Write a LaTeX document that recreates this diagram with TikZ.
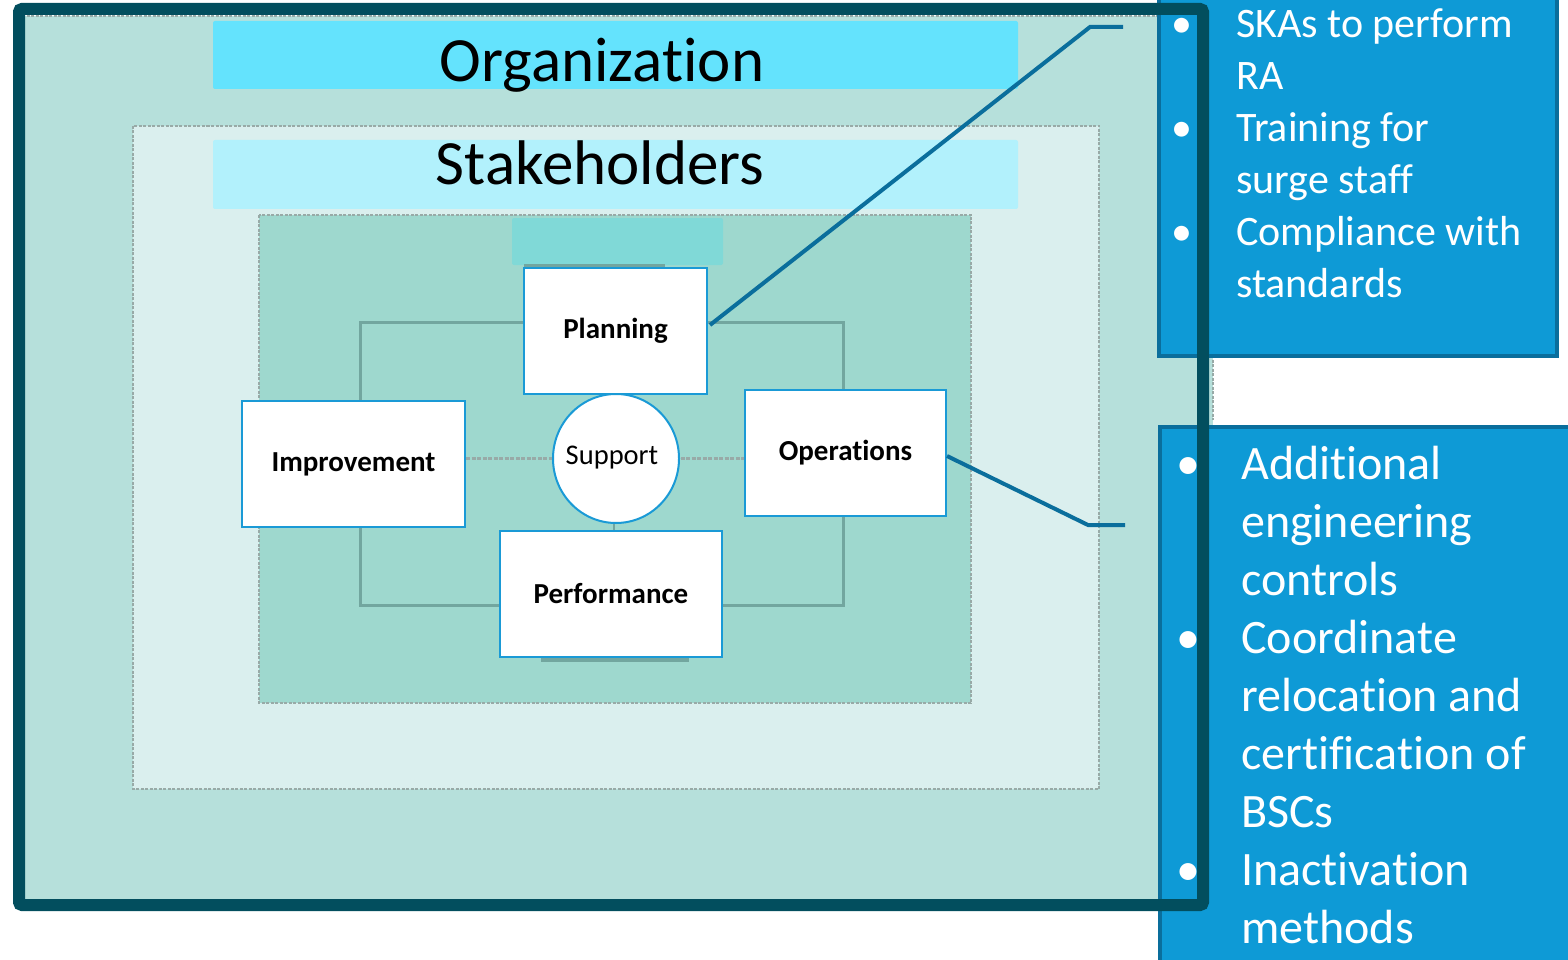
\documentclass[tikz,border=0pt]{standalone}
\usepackage{fontspec}
\setmainfont{Carlito}[Ligatures={NoCommon,NoContextual}]
\usetikzlibrary{shapes.geometric,calc}

\definecolor{framedark}{HTML}{024E5E}
\definecolor{orgfill}{HTML}{B6E0DB}
\definecolor{orglabel}{HTML}{64E3FD}
\definecolor{stakefill}{HTML}{DAEFEE}
\definecolor{stakelabel}{HTML}{B2F1FC}
\definecolor{corefill}{HTML}{9ED8CE}
\definecolor{corelabel}{HTML}{80D9D7}
\definecolor{loopline}{HTML}{72A69F}
\definecolor{dashgray}{HTML}{98AAA7}
\definecolor{nodeblue}{HTML}{1A9AD6}
\definecolor{calloutfill}{HTML}{0E9AD6}
\definecolor{calloutedge}{HTML}{0A6E9C}

\pgfdeclarelayer{bg}
\pgfsetlayers{bg,main}

\begin{document}
\begin{tikzpicture}[x=1pt,y=-1pt,
  zone/.style={draw=dashgray, line width=1.5, dash pattern=on 3pt off 1.5pt},
  bigtitle/.style={anchor=base, inner sep=0, font=\fontsize{63}{75}\selectfont},
  stagebox/.style={draw=nodeblue, line width=2, fill=white, inner sep=0,
    font=\bfseries\fontsize{29}{34}\selectfont},
  hub/.style={ellipse, draw=nodeblue, line width=2, fill=white, inner sep=0,
    minimum width=126, minimum height=129},
  leader/.style={draw=calloutedge, line width=4},
  calloutbox/.style={fill=calloutfill, draw=calloutedge, line width=4},
  callouttext/.style={anchor=base west, inner sep=0, text=white}]

\useasboundingbox (0,0) rectangle (1568,960);
\clip (0,0) rectangle (1568,960);

% nested zones and their title bars
\begin{pgfonlayer}{bg}
  \fill[orgfill] (22,16) rectangle (1213,900);
  \draw[zone] (22,16) -- (1213,16) -- (1213,420);
  \fill[orglabel, rounded corners=2] (213,21) rectangle (1018,89);

  \fill[stakefill] (133,126) rectangle (1099,789);
  \draw[zone] (133,126) rectangle (1099,789);
  \fill[stakelabel, rounded corners=2] (213,140) rectangle (1018,209);

  \fill[corefill] (259,215) rectangle (971,703);
  \draw[zone] (259,215) rectangle (971,703);
  \fill[corelabel, rounded corners=2] (512,218) rectangle (723,265);
  \fill[loopline] (524,264) rectangle (665,268);

  % loop joining the four stages
  \draw[loopline, line width=3] (360,322) rectangle (843,605);
  \fill[loopline] (541,657) rectangle (689,662);
\end{pgfonlayer}

\node[bigtitle] (orgtitle) at (602,82) {Organization};
\node[bigtitle] (staketitle) at (600,185) {Stakeholders};

% stages of the cycle
\node[stagebox, minimum width=183, minimum height=126] (planning) at (615.5,331) {Planning};
\node[stagebox, minimum width=223, minimum height=126] (improvement) at (353.5,464) {\raisebox{-2pt}{Improvement}};
\node[stagebox, minimum width=201, minimum height=126] (operations) at (845.5,453) {Operations};
\node[stagebox, minimum width=222, minimum height=126] (performance) at (611,594) {Performance};
\node[hub] (support) at (616,458.5) {};
\node[anchor=base, inner sep=0, font=\fontsize{28.5}{34}\selectfont] (supporttext)
  at ($(support.center)+(-4,6)$) {Support};

\begin{pgfonlayer}{bg}
  \draw[dashgray, line width=2.5, dash pattern=on 4pt off 1.5pt]
    (improvement.east |- support.center) -- (operations.west |- support.center);
  \draw[loopline, line width=2] (support.south -| 614,0) -- (performance.north -| 614,0);
\end{pgfonlayer}

% leader lines to the call-outs
\coordinate (bend1) at (1090,27);
\coordinate (tip1) at (1123,27);
\coordinate (bend2) at (1088,525);
\coordinate (tip2) at (1125,525);
\draw[leader] ($(planning.east)+(2,-6)$) -- (bend1) -- (tip1);
\draw[leader] ($(operations.east)+(0,3)$) -- (bend2) -- (tip2);

% call-out boxes
\node[calloutbox, anchor=north west, minimum width=398, minimum height=360, inner sep=0]
  (callouttop) at (1157,-6) {};
\node[calloutbox, anchor=north west, minimum width=430, minimum height=560, inner sep=0]
  (calloutbottom) at (1158,425) {};

\node[callouttext, font=\fontsize{42}{52}\selectfont] (topitems) at (1182,38)
  {\begin{tabular}[t]{@{}p{54pt}@{}l@{}}
    \makebox[0pt]{\textbullet} & SKAs to perform\\
     & RA\\
    \makebox[0pt]{\textbullet} & Training for\\
     & surge staff\\
    \makebox[0pt]{\textbullet} & Compliance with\\
     & standards
  \end{tabular}};

\node[callouttext, font=\fontsize{48}{58}\selectfont] (bottomitems) at (1188,479)
  {\begin{tabular}[t]{@{}p{53pt}@{}l@{}}
    \makebox[0pt]{\textbullet} & Additional\\
     & engineering\\
     & controls\\
    \makebox[0pt]{\textbullet} & Coordinate\\
     & relocation and\\
     & certification of\\
     & BSCs\\
    \makebox[0pt]{\textbullet} & Inactivation\\
     & methods
  \end{tabular}};

% outer frame, drawn over everything
\draw[framedark, line width=12, rounded corners=3] (19,9) rectangle (1203,905);

\end{tikzpicture}
\end{document}
